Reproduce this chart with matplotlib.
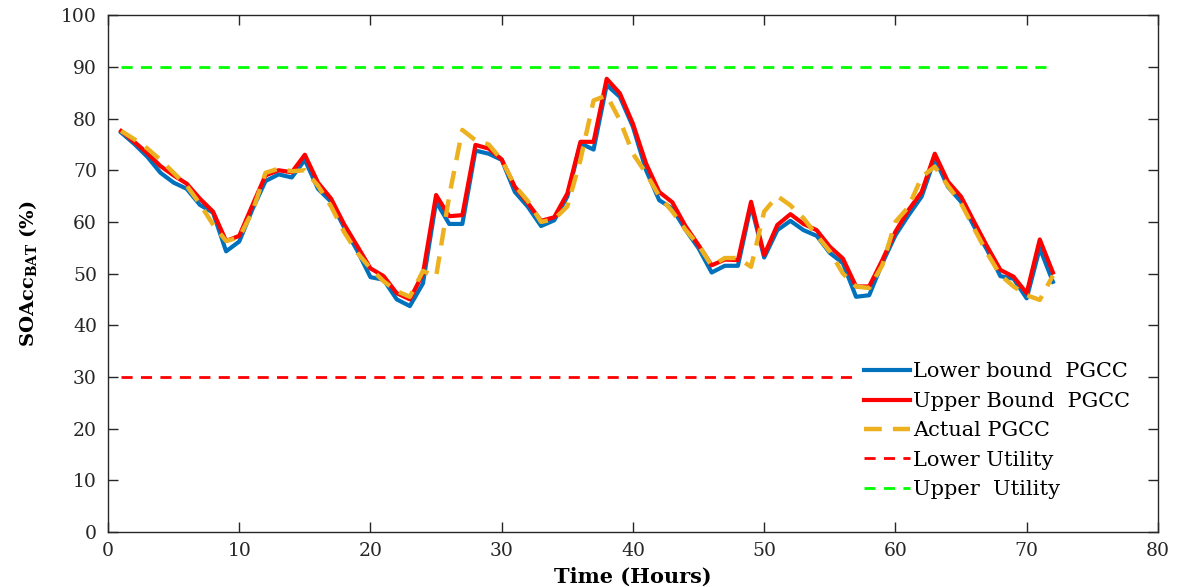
import numpy as np
import matplotlib
matplotlib.use('Agg')
import matplotlib.pyplot as plt

plt.rcParams['font.family'] = ['DejaVu Serif']
plt.rcParams['mathtext.fontset'] = 'dejavuserif'

hours = np.arange(1, 73)

lower_pgcc = [
    77.3, 75.1, 72.6, 69.5, 67.6, 66.4, 63.3, 61.8, 54.3, 56.2,
    62.4, 67.9, 69.2, 68.6, 72.0, 66.4, 63.9, 58.9, 54.4, 49.3,
    48.8, 45.0, 43.7, 48.1, 63.9, 59.6, 59.6, 73.8, 73.2, 72.0,
    65.8, 62.9, 59.2, 60.3, 64.9, 75.2, 74.0, 86.5, 84.2, 78.4,
    70.0, 64.2, 62.6, 58.5, 54.9, 50.2, 51.5, 51.5, 63.2, 53.1,
    58.4, 60.2, 58.4, 57.3, 54.0, 52.0, 45.5, 45.8, 52.0, 57.4,
    61.3, 64.9, 72.3, 66.8, 63.9, 59.1, 54.5, 49.5, 49.0, 45.2,
    54.9, 48.4,
]
upper_pgcc = [
    77.6, 75.5, 73.3, 70.8, 69.0, 67.4, 64.5, 62.0, 56.3, 57.3,
    63.2, 69.0, 70.0, 69.6, 73.0, 67.6, 64.5, 59.5, 55.3, 51.0,
    49.5, 46.2, 45.0, 50.0, 65.2, 61.1, 61.3, 74.9, 74.2, 72.1,
    66.8, 63.6, 60.2, 60.9, 65.5, 75.5, 75.5, 87.7, 84.9, 79.0,
    71.3, 65.8, 63.8, 59.2, 55.5, 51.6, 52.7, 52.6, 63.9, 53.6,
    59.4, 61.5, 59.6, 58.4, 55.2, 52.9, 47.5, 47.5, 52.6, 58.1,
    62.3, 65.8, 73.2, 67.8, 64.9, 60.0, 55.2, 50.7, 49.4, 46.2,
    56.6, 50.2,
]
actual_pgcc = [
    77.6, 76.0, 74.2, 72.0, 69.5, 67.0, 63.5, 59.5, 56.3, 57.0,
    62.0, 69.5, 70.3, 69.8, 70.0, 67.0, 63.0, 58.0, 54.0, 51.0,
    48.5, 46.6, 45.5, 50.5, 49.4, 65.0, 77.8, 75.8, 75.0, 72.0,
    67.0, 64.0, 60.0, 60.5, 63.0, 72.0, 83.5, 84.5, 79.7, 73.2,
    69.4, 65.0, 62.0, 58.5, 55.5, 51.5, 53.0, 53.0, 51.3, 62.0,
    65.0, 63.2, 60.7, 57.4, 54.3, 50.0, 47.5, 47.2, 51.6, 60.0,
    62.9, 68.7, 70.7, 67.0, 63.6, 58.7, 53.9, 49.7, 47.5, 45.8,
    44.9, 49.6,
]
lower_utility = 30
upper_utility = 90

fig = plt.figure(figsize=(11.79, 5.87), dpi=100)
ax = fig.add_axes([0.0916, 0.094, 0.8905, 0.880])

ax.plot(hours, lower_pgcc, color='#0072BD', lw=3.0, label='Lower bound  PGCC')
ax.plot(hours, upper_pgcc, color='#FF0000', lw=3.0, label='Upper Bound  PGCC')
ax.plot(hours, actual_pgcc, color='#EDB120', lw=3.2, ls=(0, (4, 2.5)),
        label='Actual PGCC')
ax.plot(hours, np.full(len(hours), lower_utility), color='#FF0000', lw=2.0,
        ls=(0, (4, 3)), label='Lower Utility')
ax.plot(hours, np.full(len(hours), upper_utility), color='#00FF00', lw=2.0,
        ls=(0, (4, 3)), label='Upper  Utility')

ax.set_xlim(0, 80)
ax.set_ylim(0, 100)
ax.set_xticks(np.arange(0, 81, 10))
ax.set_yticks(np.arange(0, 101, 10))
ax.tick_params(direction='in', length=7, width=1, top=True, right=True,
               labelsize=13.5, colors='#262626', pad=7)
ax.tick_params(axis='y', pad=8)
for sp in ax.spines.values():
    sp.set_color('#262626')
    sp.set_linewidth(1.0)

ax.set_xlabel('Time (Hours)', fontsize=15, fontweight='bold', labelpad=5)
ax.set_ylabel(r'SOAcc$_{\mathbf{BAT}}$ (%)', fontsize=14, fontweight='bold',
              labelpad=16)

leg = ax.legend(loc='lower right', bbox_to_anchor=(0.987, 0.035), frameon=True,
                fontsize=15, handlelength=2.2, handletextpad=0.15,
                labelspacing=0.5, borderpad=0.2)
leg.get_frame().set_edgecolor('white')
leg.get_frame().set_facecolor('white')
leg.get_frame().set_alpha(1.0)

fig.savefig('out.png', dpi=100)
